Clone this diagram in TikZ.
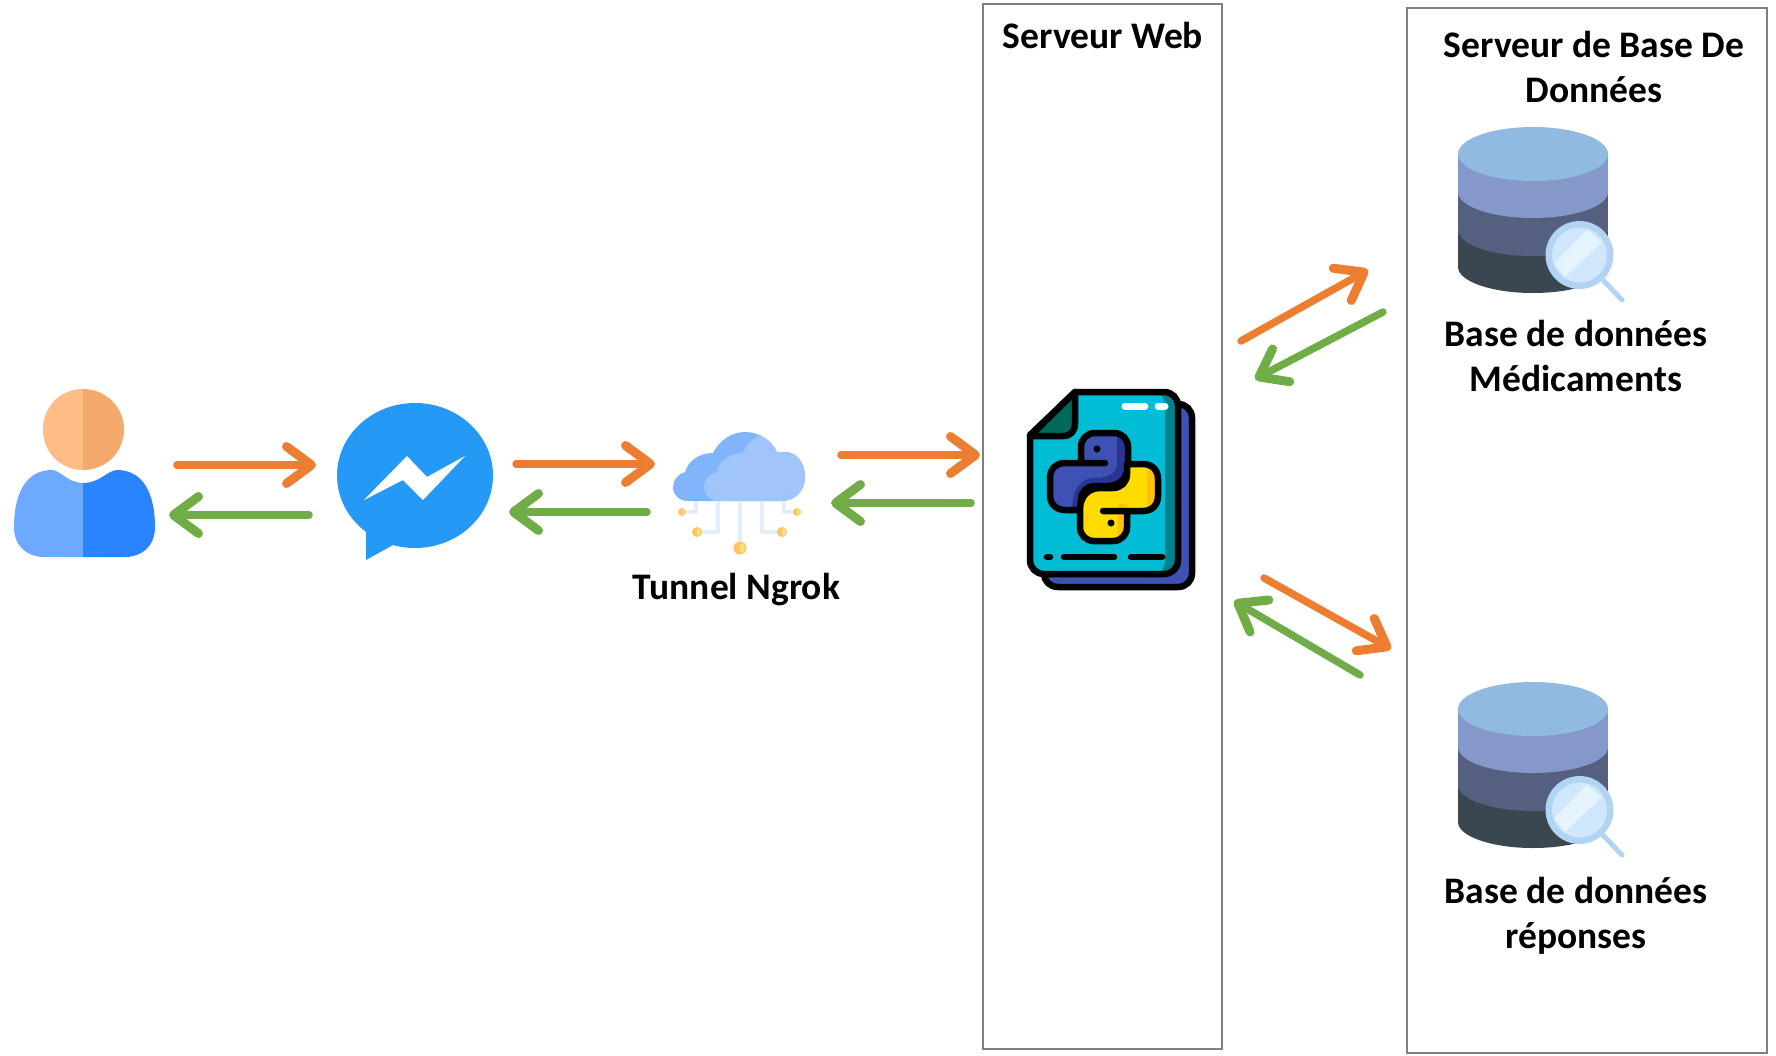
\documentclass[tikz,border=0pt]{standalone}
\usepackage{fontspec}
\setmainfont{Carlito}
\usetikzlibrary{arrows.meta}

\definecolor{boxgray}{HTML}{7F7F7F}
\definecolor{reqorange}{HTML}{ED7D31}
\definecolor{respgreen}{HTML}{70AD47}
\definecolor{skinlt}{HTML}{FFBD86}
\definecolor{skindk}{HTML}{F6A96C}
\definecolor{shirtlt}{HTML}{6CA9FF}
\definecolor{shirtdk}{HTML}{2A83FF}
\definecolor{msgblue}{HTML}{2499F5}
\definecolor{cloudback}{HTML}{82B4FB}
\definecolor{cloudfront}{HTML}{9FC5FA}
\definecolor{wireblue}{HTML}{E3EEFC}
\definecolor{dotgold}{HTML}{FFC45C}
\definecolor{dotlight}{HTML}{FFDC8C}
\definecolor{pageteal}{HTML}{00BCD4}
\definecolor{pagedark}{HTML}{00838F}
\definecolor{foldgreen}{HTML}{00695C}
\definecolor{pyblue}{HTML}{3F51B5}
\definecolor{pybluedk}{HTML}{283593}
\definecolor{pyyellow}{HTML}{FFDC00}
\definecolor{pyyellowdk}{HTML}{FFC107}
\definecolor{dbtop}{HTML}{90BAE0}
\definecolor{dbmid}{HTML}{8598CA}
\definecolor{dblow}{HTML}{555F80}
\definecolor{dbbase}{HTML}{3A4750}
\definecolor{lensring}{HTML}{B0D4F1}
\definecolor{lensglass}{HTML}{CFE6FB}
\definecolor{lensshine}{HTML}{E6F4FD}

\newcommand{\snakepath}{(1105,463) -- (1081,463) -- (1081,447) .. controls (1081,439) and (1087,433) .. (1095,433) -- (1114,433) .. controls (1122,433) and (1128,439) .. (1128,447) -- (1128,465) .. controls (1128,477) and (1120,486) .. (1108,486) -- (1095,486) .. controls (1087,486) and (1081,492) .. (1081,500) -- (1081,510) -- (1065,510) .. controls (1056,510) and (1050,504) .. (1050,495) -- (1050,478) .. controls (1050,469) and (1056,463) .. (1065,463) -- cycle}

\begin{document}
\begin{tikzpicture}[x=1pt,y=-1pt,>={Straight Barb[length=25pt,width=37pt,line width=9pt,round]}]
    \tikzstyle{srvbox} = [draw=boxgray,line width=2.2pt,inner sep=0pt];
    \tikzstyle{lbl} = [font=\fontsize{37.5}{45}\selectfont\bfseries,align=center,inner sep=0pt];
    \tikzstyle{reqarrow} = [->,reqorange,line width=7.5pt,line cap=round];
    \tikzstyle{resparrow} = [->,respgreen,line width=7.5pt,line cap=round];
    \tikzstyle{wire} = [wireblue,line width=4pt,line join=round];
    \tikzstyle{inkline} = [black,line width=6.5pt,line cap=round,line join=round];
    \useasboundingbox (0,0) rectangle (1776,1055);

    % servers
    \node[srvbox,minimum width=239pt,minimum height=1045pt] (web) at (1102.5,526.5) {};
    \node[srvbox,minimum width=360pt,minimum height=1045pt] (dbsrv) at (1587,530.5) {};
    \node[lbl] (webtitle) at (1103,35) {Serveur Web};
    \node[lbl] (dbtitle) at (1594,67) {Serveur de Base De\\Données};

    % user
    \fill[skinlt] (83,389) .. controls (60,389) and (43,407) .. (43,429.5) .. controls (43,452) and (60,470) .. (83,470) -- cycle;
    \fill[skindk] (83,389) .. controls (106,389) and (124,407) .. (124,429.5) .. controls (124,452) and (106,470) .. (83,470) -- cycle;
    \fill[shirtlt] (83,483) .. controls (68,483) and (60,470) .. (52,470) .. controls (25,470) and (14,495) .. (14,527) .. controls (14,547) and (28,557) .. (44,557) -- (83,557) -- cycle;
    \fill[shirtdk] (83,483) .. controls (100,483) and (108,470) .. (117,470) .. controls (144,470) and (155,495) .. (155,527) .. controls (155,547) and (141,557) .. (125,557) -- (83,557) -- cycle;

    % messenger
    \fill[msgblue] (415,475.5) ellipse (78pt and 72.5pt);
    \fill[msgblue] (366,525) -- (366,560) -- (393,545) -- (410,540) -- cycle;
    \fill[white] (364,500) -- (407,456) -- (427,477) -- (465,456) -- (423,500) -- (403,480) -- cycle;

    % cloud
    \fill[cloudback] (688,501) .. controls (679,501) and (673,495) .. (673,487) .. controls (673,480) and (678,474) .. (685,472) .. controls (688,461) and (699,453) .. (713,453) .. controls (719,441) and (731,432) .. (745,432) .. controls (760,432) and (772,441) .. (777,452) -- (785,452) .. controls (797,452) and (805,463) .. (805,477) .. controls (805,491) and (795,501) .. (782,501) -- cycle;
    \fill[cloudfront] (718,501) .. controls (710,501) and (704,495) .. (704,487) .. controls (704,480) and (709,474) .. (717,472) .. controls (719,461) and (730,453) .. (743,453) .. controls (747,444) and (753,438) .. (760,435) .. controls (767,439) and (773,445) .. (777,452) -- (785,452) .. controls (797,452) and (805,463) .. (805,477) .. controls (805,491) and (795,501) .. (782,501) -- cycle;
    \draw[wire] (696,501) -- (696,512) -- (682,512);
    \draw[wire] (718,501) -- (718,532) -- (697,532);
    \draw[wire] (740,501) -- (740,548);
    \draw[wire] (762,501) -- (762,532) -- (782,532);
    \draw[wire] (784,501) -- (784,512) -- (797,512);
    \foreach \dx/\dy/\dr in {682/512/4,697/532/5,740/548/6.5,782/532/5,797/512/4} {
        \fill[dotgold] (\dx,\dy) circle (\dr pt);
        \fill[dotlight] (\dx+0.35*\dr,\dy) ellipse (0.4*\dr pt and 0.8*\dr pt);
    }
    \node[lbl] (tunnel) at (736.5,590) {Tunnel Ngrok};

    % python files
    \draw[inkline,fill=pyblue] (1178,404) .. controls (1186,404) and (1192,410) .. (1192,418) -- (1192,573) .. controls (1192,581) and (1186,587) .. (1178,587) -- (1058,587) .. controls (1050,587) and (1044,581) .. (1044,574) -- cycle;
    \fill[pageteal] (1075,392) -- (1164,392) .. controls (1172,392) and (1178,398) .. (1178,406) -- (1178,560) .. controls (1178,568) and (1172,574) .. (1164,574) -- (1044,574) .. controls (1036,574) and (1030,568) .. (1030,560) -- (1030,435) -- cycle;
    \fill[pagedark] (1164,392) .. controls (1172,392) and (1178,398) .. (1178,406) -- (1178,560) .. controls (1178,568) and (1172,574) .. (1164,574) -- (1155,574) .. controls (1161,574) and (1165,568) .. (1165,560) -- (1165,406) .. controls (1165,398) and (1161,392) .. (1155,392) -- cycle;
    \draw[inkline] (1075,392) -- (1164,392) .. controls (1172,392) and (1178,398) .. (1178,406) -- (1178,560) .. controls (1178,568) and (1172,574) .. (1164,574) -- (1044,574) .. controls (1036,574) and (1030,568) .. (1030,560) -- (1030,435) -- cycle;
    \draw[inkline,fill=foldgreen] (1075,392) -- (1075,423) .. controls (1075,431) and (1071,436) .. (1063,436) -- (1030,436) -- cycle;
    \draw[white,line width=7pt,line cap=round] (1125,406) -- (1145,406) (1158,406) -- (1165,406);
    \draw[inkline] (1047,557) -- (1050,557) (1064,557) -- (1114,557) (1131,557) -- (1162,557);
    % python snakes
    \fill[pyblue] \snakepath;
    \begin{scope}
        \clip \snakepath;
        \fill[pybluedk] (1117,430) rectangle (1130,470);
        \fill[pybluedk] (1130,465) -- (1117,465) .. controls (1115,475) and (1105,478) .. (1095,478) .. controls (1080,478) and (1072,490) .. (1072,512) -- (1090,512) -- (1110,490) -- cycle;
    \end{scope}
    \draw[inkline] \snakepath;
    \begin{scope}[rotate around={180:(1104,487)}]
        \fill[pyyellow] \snakepath;
        \begin{scope}
            \clip \snakepath;
            \fill[pyyellowdk] (1090,433) rectangle (1081,470);
            \fill[pyyellowdk] (1061,463) rectangle (1048,512);
        \end{scope}
        \draw[inkline] \snakepath;
    \end{scope}
    \fill[black] (1097,449) circle (3.5pt);
    \fill[black] (1111,523) circle (3.5pt);

    % databases
    \foreach \dshift/\dname/\dtext/\dtexty in {0/basemed/Médicaments/356,555/baserep/réponses/361} {
        \begin{scope}[shift={(0,\dshift)}]
            \foreach \ly/\lc in {267/dbbase,230/dblow,192/dbmid} {
                \fill[\lc] (1458,154) rectangle (1608,\ly);
                \fill[\lc] (1533,\ly) ellipse (75pt and 26pt);
            }
            \fill[dbtop] (1533,154) ellipse (75pt and 27pt);
            \draw[lensring,line width=5pt,line cap=round] (1600,277) -- (1622,300);
            \fill[lensring] (1579.5,255) circle (34pt);
            \fill[lensglass] (1579.5,255) circle (27.5pt);
            \begin{scope}
                \clip (1579.5,255) circle (27.5pt);
                \fill[lensshine] (1554,263) -- (1587,230) -- (1602,242) -- (1565,277) -- cycle;
            \end{scope}
            \node[lbl] (\dname) at (1576,\dtexty) {Base de données\\\dtext};
        \end{scope}
    }

    % connector ends
    \coordinate (userout) at (177,465);
    \coordinate (msgin) at (316,465);
    \coordinate (msgback) at (309,515);
    \coordinate (userin) at (169,515);
    \coordinate (msgout) at (516,464);
    \coordinate (cloudin) at (655,464);
    \coordinate (cloudback2) at (647,512);
    \coordinate (msgin2) at (509,512);
    \coordinate (cloudout) at (841,455);
    \coordinate (webin) at (980,455);
    \coordinate (webback) at (971,503);
    \coordinate (cloudin2) at (831,503);
    \coordinate (webout) at (1241,341);
    \coordinate (medin) at (1368,270);
    \coordinate (medback) at (1383,312);
    \coordinate (webin2) at (1255,379);
    \coordinate (webout2) at (1264,578);
    \coordinate (repin) at (1391,649);
    \coordinate (repback) at (1360,675);
    \coordinate (webin3) at (1234,601);

    \foreach \from/\to in {userout/msgin,msgout/cloudin,cloudout/webin,webout/medin,webout2/repin}
        \draw[reqarrow] (\from) -- (\to);
    \foreach \from/\to in {msgback/userin,cloudback2/msgin2,webback/cloudin2,medback/webin2,repback/webin3}
        \draw[resparrow] (\from) -- (\to);
\end{tikzpicture}
\end{document}
